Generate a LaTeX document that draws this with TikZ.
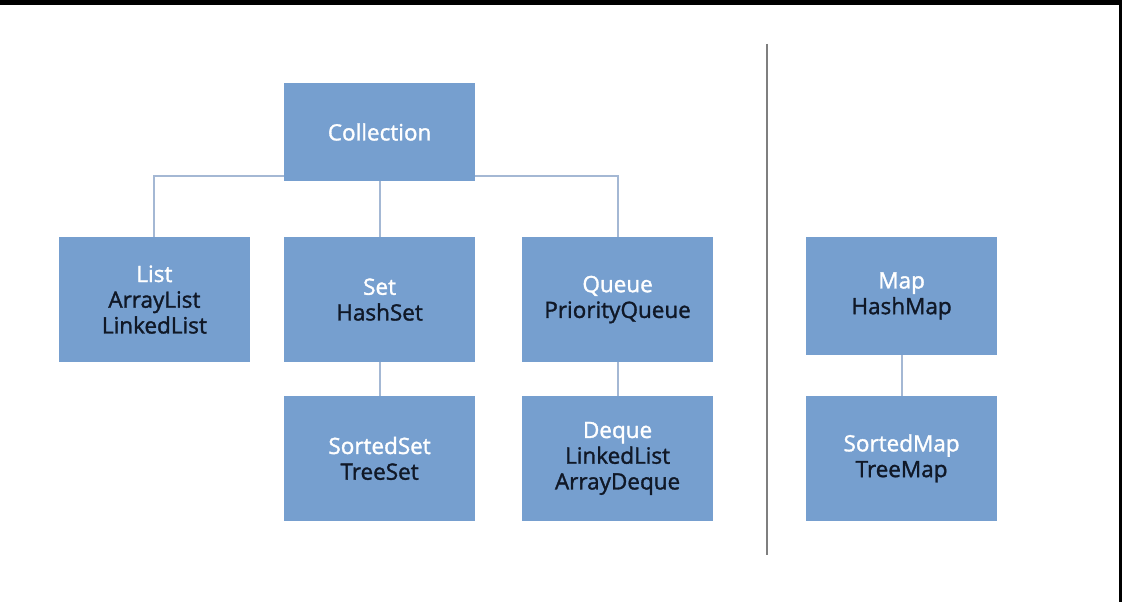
\documentclass[tikz,border=0pt]{standalone}
\usepackage{fontspec}
\setmainfont{Open Sans}[RawFeature={embolden=1.5}]
\usepackage{xcolor}
\usetikzlibrary{positioning, calc}

\definecolor{boxblue}{HTML}{769FCF}
\definecolor{linkblue}{HTML}{A4B8D4}
\definecolor{textdark}{HTML}{101827}
\definecolor{sepgray}{HTML}{7F7F7F}

\begin{document}
\begin{tikzpicture}[
    classbox/.style={fill=boxblue, minimum width=4.775cm, minimum height=3.125cm,
        inner sep=0pt, align=center, text=textdark,
        font=\fontsize{16}{18.3}\selectfont},
    link/.style={draw=linkblue, line width=1.4pt}
]
    % Frame
    \useasboundingbox (0,0) rectangle (28.05,15.05);
    \fill[white] (0,0) rectangle (28.05,15.05);
    \fill[black] (0,14.925) rectangle (28.05,15.05);
    \fill[black] (27.975,0) rectangle (28.05,15.05);

    % Collection side
    \node[classbox, minimum height=2.45cm] (collection) at (9.49,11.75) {\textcolor{white}{Collection}};
    \node[classbox] (list) at (3.86,7.56) {\textcolor{white}{List}\\ArrayList\\LinkedList};
    \node[classbox] (set) at (9.49,7.56) {\textcolor{white}{Set}\\HashSet};
    \node[classbox] (queue) at (15.44,7.56) {\textcolor{white}{Queue}\\PriorityQueue};
    \node[classbox] (sortedset) at (9.49,3.59) {\textcolor{white}{SortedSet}\\TreeSet};
    \node[classbox] (deque) at (15.44,3.59) {\textcolor{white}{Deque}\\LinkedList\\ArrayDeque};

    \draw[link] (list.north) |- ([yshift=3.5pt]collection.south west);
    \draw[link] (queue.north) |- ([yshift=3.5pt]collection.south east);
    \draw[link] (collection) -- (set);
    \draw[link] (set) -- (sortedset);
    \draw[link] (queue) -- (deque);

    % Separator
    \coordinate (septop) at (19.17,13.95);
    \coordinate (sepbot) at (19.17,1.175);
    \draw[sepgray, line width=1.5pt] (septop) -- (sepbot);

    % Map side
    \node[classbox, minimum height=2.95cm] (map) at (22.54,7.65) {\textcolor{white}{Map}\\HashMap};
    \node[classbox] (sortedmap) at (22.54,3.59) {\textcolor{white}{SortedMap}\\TreeMap};
    \draw[link] (map) -- (sortedmap);
\end{tikzpicture}
\end{document}
